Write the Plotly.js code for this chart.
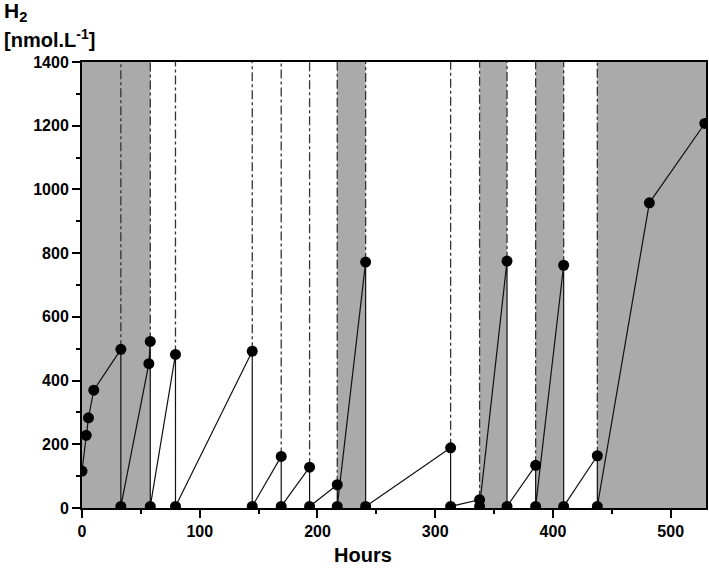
<!DOCTYPE html>
<html>
<head>
<meta charset="utf-8">
<script src="https://cdn.plot.ly/plotly-3.0.1.min.js"></script>
<style>html,body{margin:0;padding:0;background:#fff;}#chart{width:709px;height:574px;}</style>
</head>
<body>
<div id="chart"></div>
<script>
// Measured series (hours, H2 nmol/L)
const hours = [0, 3.6, 5.5, 10, 33, 33, 56.8, 58, 58, 79.4, 79.4, 144.6, 144.6, 169.2, 169.2, 193.3, 193.3, 216.8, 216.8, 240.9, 240.9, 313.1, 313.1, 337.7, 337.7, 361, 361, 385.3, 385.3, 409.1, 409.1, 437.7, 437.7, 481.9, 529];
const h2 = [116, 228, 283, 370, 498, 5, 453, 523, 5, 482, 5, 492, 5, 162, 5, 128, 5, 73, 5, 772, 5, 189, 5, 26, 5, 775, 5, 134, 5, 762, 5, 164, 5, 958, 1207];

// Sampling / flush events (dash-dot markers)
const dropHours = [33, 58, 79.4, 144.6, 169.2, 193.3, 216.8, 240.9, 313.1, 337.7, 361, 385.3, 409.1, 437.7];
const dropPeak = [498, 523, 482, 492, 162, 128, 73, 772, 189, 26, 775, 134, 762, 164];

// Shaded intervals
const shadeStart = [0, 216.8, 337.7, 385.3, 437.7];
const shadeEnd = [58, 240.9, 361, 409.1, 530];

const xTicks = [0, 100, 200, 300, 400, 500];
const yTicks = [0, 200, 400, 600, 800, 1000, 1200, 1400];
const xMax = 530, yMax = 1400;

const FONT = 'Liberation Sans, Arial, Helvetica, sans-serif';

const dx = [], dy = [];
dropHours.forEach((h, i) => { dx.push(h, h, null); dy.push(dropPeak[i], yMax, null); });

const traces = [
  {x: dx, y: dy, mode: 'lines', type: 'scatter', hoverinfo: 'skip',
   line: {color: '#333333', width: 1.3, dash: 'dashdot'}, showlegend: false},
  {x: hours, y: h2, mode: 'lines+markers', type: 'scatter', cliponaxis: true,
   line: {color: '#111', width: 1.2}, marker: {color: '#000', size: 11}, showlegend: false}
];

const shapes = shadeStart.map((s, i) => ({
  type: 'rect', xref: 'x', yref: 'paper', x0: s, x1: shadeEnd[i], y0: 0, y1: 1,
  fillcolor: '#aaaaaa', line: {width: 0}, layer: 'below'
}));

const axisCommon = {
  showgrid: false, zeroline: false, showline: true, linecolor: '#000', linewidth: 2,
  mirror: true, ticks: 'outside', ticklen: 8, tickwidth: 2, tickcolor: '#000',
  tickfont: {family: FONT, size: 16, color: '#000', weight: 700}
};

const layout = {
  width: 709, height: 574,
  margin: {l: 82, r: 3, t: 62, b: 66},
  paper_bgcolor: '#fff', plot_bgcolor: '#fff',
  xaxis: Object.assign({}, axisCommon, {
    range: [0, xMax], tickvals: xTicks, ticktext: xTicks.map(String),
    minor: {ticks: 'outside', ticklen: 4, tickwidth: 2, tickcolor: '#000', dtick: 50, tick0: 0}
  }),
  yaxis: Object.assign({}, axisCommon, {
    range: [0, yMax], tickvals: yTicks, ticktext: yTicks.map(String),
    minor: {ticks: 'outside', ticklen: 4, tickwidth: 2, tickcolor: '#000', dtick: 100, tick0: 0}
  }),
  shapes: shapes,
  annotations: [
    {text: '<b>H<sub>2</sub></b>', xref: 'paper', yref: 'paper', x: -80/623.5, y: 1 + 50/446,
     xanchor: 'left', yanchor: 'middle', showarrow: false, font: {family: FONT, size: 21, color: '#000'}},
    {text: '<b>[nmol.L<sup>-1</sup>]</b>', xref: 'paper', yref: 'paper', x: -80/623.5, y: 1 + 24/446,
     xanchor: 'left', yanchor: 'middle', showarrow: false, font: {family: FONT, size: 20, color: '#000'}},
    {text: '<b>Hours</b>', xref: 'paper', yref: 'paper', x: (363-82)/623.5, y: -(555-508)/446,
     xanchor: 'center', yanchor: 'middle', showarrow: false, font: {family: FONT, size: 20, color: '#000'}}
  ]
};

Plotly.newPlot('chart', traces, layout, {staticPlot: true, displayModeBar: false});
</script>
</body>
</html>
